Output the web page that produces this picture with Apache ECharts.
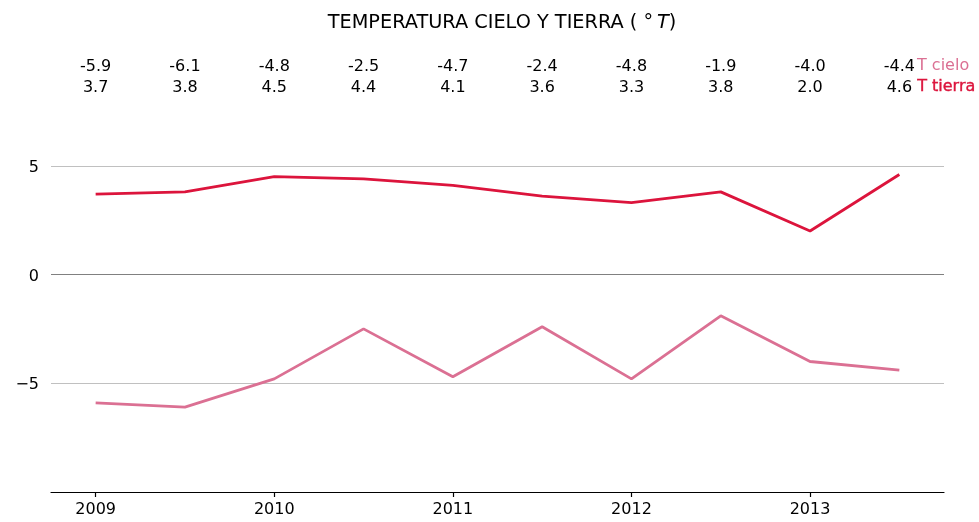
<!DOCTYPE html>
<html>
<head>
<meta charset="utf-8">
<script src="https://cdn.jsdelivr.net/npm/echarts@6/dist/echarts.min.js"></script>
<style>
  html, body { margin: 0; padding: 0; background: #fff; }
  #chart { width: 979px; height: 522px; }
</style>
</head>
<body>
<div id="chart"></div>
<script>
const years = [2009, 2009.5, 2010, 2010.5, 2011, 2011.5, 2012, 2012.5, 2013, 2013.5];
const tCielo = [-5.9, -6.1, -4.8, -2.5, -4.7, -2.4, -4.8, -1.9, -4.0, -4.4];
const tTierra = [3.7, 3.8, 4.5, 4.4, 4.1, 3.6, 3.3, 3.8, 2.0, 4.6];
const xTicks = [2009, 2010, 2011, 2012, 2013];
const yTicks = [-5, 0, 5];

const colCielo = '#db7093';
const colTierra = '#dc143c';
const font = 'DejaVu Sans';

// rows of value annotations above the lines
const rowCielo = 9.54;
const rowTierra = 8.58;

const chart = echarts.init(document.getElementById('chart'));

const pairs = (ys) => years.map((x, i) => [x, ys[i]]);
const labelRow = (name, ys, yRow) => ({
  name: name,
  type: 'scatter',
  symbolSize: 0,
  silent: true,
  itemStyle: { opacity: 1 },
  data: years.map((x, i) => [x, yRow, ys[i]]),
  label: {
    show: true,
    position: 'inside',
    color: '#000',
    fontFamily: font,
    fontSize: 16,
    formatter: p => p.value[2].toFixed(1)
  }
});

chart.setOption({
  animation: false,
  title: {
    text: 'TEMPERATURA CIELO Y TIERRA ( °\u2009{i|T})',
    left: 497,
    textAlign: 'center',
    top: 8,
    textStyle: {
      fontFamily: font, fontSize: 19.3, fontWeight: 'normal', color: '#000',
      rich: { i: { fontFamily: font, fontSize: 19.3, fontStyle: 'italic', color: '#000' } }
    }
  },
  grid: { left: 51, right: 35, top: 57, bottom: 30 },
  xAxis: {
    type: 'value',
    min: 2008.75,
    max: 2013.75,
    splitLine: { show: false },
    axisLine: { show: true, onZero: false, lineStyle: { color: '#000', width: 1.2 } },
    axisTick: { show: true, length: 5, customValues: xTicks, lineStyle: { color: '#000', width: 1.2 } },
    axisLabel: {
      customValues: xTicks, color: '#000', fontFamily: font, fontSize: 16, margin: 10,
      formatter: v => String(v)
    }
  },
  yAxis: {
    type: 'value',
    min: -10,
    max: 10,
    interval: 5,
    axisLine: { show: false },
    axisTick: { show: false },
    splitLine: {
      show: true,
      lineStyle: { color: ['rgba(0,0,0,0)', '#c0c0c0', '#808080', '#c0c0c0', 'rgba(0,0,0,0)'], width: 1.2 }
    },
    axisLabel: {
      customValues: yTicks, color: '#000', fontFamily: font, fontSize: 16, margin: 12,
      formatter: v => '{t|' + (v < 0 ? '\u2212' + Math.abs(v) : String(v)) + '}',
      rich: { t: { fontFamily: font, fontSize: 16, color: '#000', padding: [4, 0, 0, 0] } }
    }
  },
  series: [
    {
      name: 'T cielo', type: 'line', data: pairs(tCielo), showSymbol: false,
      lineStyle: { color: colCielo, width: 2.8 }, itemStyle: { color: colCielo }
    },
    {
      name: 'T tierra', type: 'line', data: pairs(tTierra), showSymbol: false,
      lineStyle: { color: colTierra, width: 2.8 }, itemStyle: { color: colTierra }
    },
    labelRow('cielo values', tCielo, rowCielo),
    labelRow('tierra values', tTierra, rowTierra)
  ],
  graphic: [
    { type: 'text', left: 917, top: 58, style: { text: 'T cielo', fill: colCielo, font: '16px "DejaVu Sans"' } },
    { type: 'text', left: 917, top: 79, style: { text: 'T tierra', fill: colTierra, font: '16px "DejaVu Sans"', stroke: colTierra, lineWidth: 0.4 } }
  ]
});
</script>
</body>
</html>
